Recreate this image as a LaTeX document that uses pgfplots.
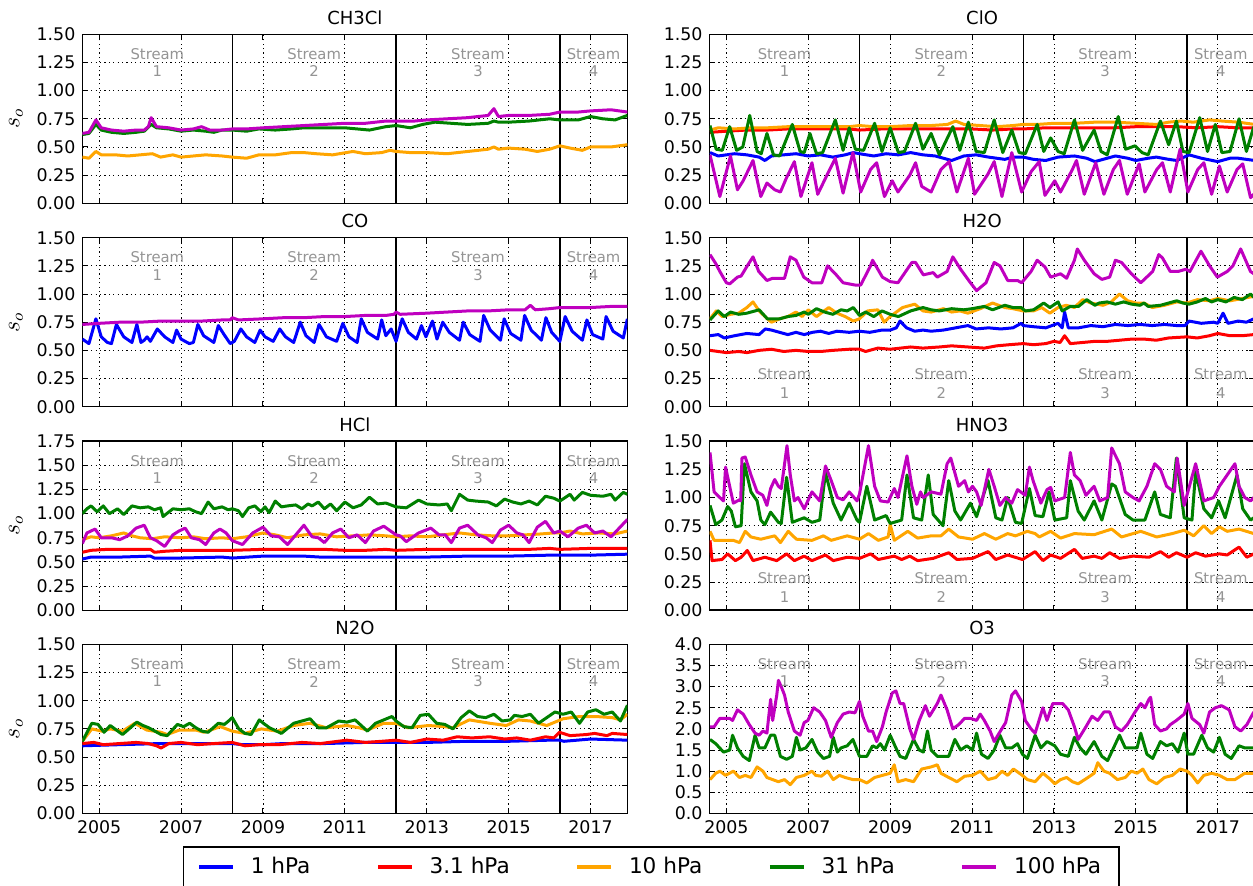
\documentclass[border=0pt]{standalone}
\usepackage{fontspec}
\setmainfont{DejaVu Sans}
\usepackage{pgfplots}
\pgfplotsset{compat=1.18}
\definecolor{colB}{rgb}{0,0,1}
\definecolor{colR}{rgb}{1,0,0}
\definecolor{colO}{rgb}{1,0.647,0}
\definecolor{colG}{rgb}{0,0.5,0}
\definecolor{colM}{rgb}{0.75,0,0.75}
\definecolor{sgray}{rgb}{0.58,0.58,0.58}
\tikzset{streamtxt/.style={text=sgray, font=\fontsize{7.4}{9}\selectfont, inner sep=0pt}}
\pgfplotsset{
 panel/.style={
  scale only axis, width=272.5pt, height=84.5pt,
  xmin=2004.59, xmax=2017.9, ymin=0,
  xtick={2005,2007,2009,2011,2013,2015,2017},
  xticklabels={},
  grid=major,
  major grid style={black, line width=0.45pt, dash pattern=on 0.6pt off 1.6pt},
  extra x ticks={2008.25,2012.25,2016.25},
  extra x tick labels={},
  extra x tick style={major grid style={solid, black, line width=0.7pt}, major tick length=0pt},
  tick align=inside, major tick length=2.8pt,
  tick style={black, line width=0.5pt},
  axis line style={line width=0.7pt},
  tick label style={font=\fontsize{8.7}{10}\selectfont},
  /pgf/number format/assume math mode=true,
  every axis title/.style={at={(0.5,1)}, anchor=south, yshift=1.2pt, font=\fontsize{9}{10}\selectfont},
  every axis plot/.append style={line width=1.5pt, line join=round},
  no markers,
  yticklabel style={/pgf/number format/.cd, fixed, fixed zerofill, precision=2},
 },
 ylab/.style={ylabel={$s_o$}, ylabel style={font=\fontsize{12}{12}\selectfont}},
 y15/.style={ymax=1.5, ytick={0,0.25,0.5,0.75,1,1.25,1.5}},
 bottomx/.style={xticklabels={2005,2007,2009,2011,2013,2015,2017}},
}
\newcommand{\streams}[2]{%
 \node[streamtxt] at (rel axis cs:0.1375,#1) {Stream};
 \node[streamtxt] at (rel axis cs:0.1375,#2) {1};
 \node[streamtxt] at (rel axis cs:0.4252,#1) {Stream};
 \node[streamtxt] at (rel axis cs:0.4252,#2) {2};
 \node[streamtxt] at (rel axis cs:0.7258,#1) {Stream};
 \node[streamtxt] at (rel axis cs:0.7258,#2) {3};
 \node[streamtxt] at (rel axis cs:0.938,#1) {Stream};
 \node[streamtxt] at (rel axis cs:0.938,#2) {4};
}
\begin{document}
\begin{tikzpicture}
\path[use as bounding box] (0pt,0pt) rectangle (626.5pt,-443pt);

% ---------------- CH3Cl
\begin{axis}[panel, y15, ylab, at={(41.2pt,-17.15pt)}, anchor=north west, title={CH3Cl}]
\addplot[colO] coordinates {(2004.59,0.41)(2004.75,0.40)(2004.92,0.46)(2005.05,0.43)(2005.4,0.43)(2005.7,0.42)(2006.0,0.43)(2006.3,0.44)(2006.5,0.41)(2006.8,0.43)(2007.0,0.41)(2007.3,0.42)(2007.6,0.43)(2008.0,0.42)(2008.25,0.41)(2008.6,0.40)(2008.9,0.43)(2009.3,0.43)(2009.7,0.45)(2010.0,0.45)(2010.3,0.44)(2010.7,0.43)(2011.2,0.46)(2011.5,0.44)(2011.9,0.45)(2012.1,0.47)(2012.25,0.46)(2012.6,0.45)(2013.0,0.45)(2013.5,0.44)(2014.0,0.46)(2014.5,0.48)(2014.64,0.50)(2014.75,0.48)(2015.0,0.49)(2015.4,0.48)(2015.7,0.46)(2016.0,0.48)(2016.25,0.51)(2016.5,0.49)(2016.8,0.47)(2017.0,0.50)(2017.5,0.50)(2017.9,0.52)};
\addplot[colG] coordinates {(2004.59,0.61)(2004.75,0.62)(2004.92,0.70)(2005.05,0.65)(2005.3,0.63)(2005.6,0.62)(2005.9,0.63)(2006.1,0.64)(2006.27,0.70)(2006.4,0.67)(2006.7,0.66)(2007.0,0.64)(2007.3,0.65)(2007.6,0.64)(2007.8,0.63)(2008.0,0.65)(2008.25,0.65)(2008.6,0.64)(2008.9,0.66)(2009.3,0.65)(2009.7,0.66)(2010.0,0.67)(2010.5,0.67)(2011.0,0.67)(2011.3,0.66)(2011.6,0.65)(2012.0,0.68)(2012.25,0.69)(2012.6,0.67)(2012.9,0.70)(2013.2,0.72)(2013.6,0.71)(2014.0,0.70)(2014.5,0.71)(2014.64,0.73)(2014.75,0.72)(2015.0,0.72)(2015.5,0.73)(2016.0,0.75)(2016.25,0.74)(2016.7,0.74)(2017.0,0.77)(2017.3,0.75)(2017.6,0.74)(2017.9,0.78)};
\addplot[colM] coordinates {(2004.59,0.62)(2004.75,0.63)(2004.92,0.74)(2005.05,0.67)(2005.3,0.65)(2005.6,0.64)(2005.9,0.65)(2006.1,0.65)(2006.2,0.68)(2006.27,0.76)(2006.4,0.68)(2006.7,0.67)(2007.0,0.65)(2007.3,0.66)(2007.5,0.68)(2007.7,0.65)(2008.0,0.65)(2008.25,0.66)(2008.6,0.66)(2009.0,0.67)(2009.5,0.68)(2010.0,0.69)(2010.5,0.70)(2011.0,0.71)(2011.5,0.71)(2012.0,0.73)(2012.25,0.73)(2012.7,0.73)(2013.0,0.74)(2013.5,0.75)(2014.0,0.76)(2014.5,0.78)(2014.64,0.84)(2014.75,0.77)(2015.0,0.78)(2015.5,0.78)(2016.0,0.79)(2016.25,0.81)(2016.7,0.81)(2017.0,0.82)(2017.5,0.83)(2017.9,0.81)};
\streams{0.885}{0.78}
\end{axis}

% ---------------- ClO
\begin{axis}[panel, y15, at={(354.8pt,-17.15pt)}, anchor=north west, title={ClO}]
\addplot[colB] coordinates {(2004.6,0.45)(2004.8,0.42)(2005.0,0.43)(2005.2,0.44)(2005.5,0.43)(2005.8,0.41)(2005.94,0.38)(2006.1,0.42)(2006.4,0.43)(2006.7,0.44)(2007.0,0.42)(2007.3,0.43)(2007.6,0.41)(2007.9,0.43)(2008.1,0.45)(2008.25,0.44)(2008.6,0.42)(2008.9,0.44)(2009.2,0.43)(2009.5,0.45)(2009.8,0.43)(2010.1,0.42)(2010.5,0.38)(2010.8,0.42)(2011.1,0.43)(2011.4,0.41)(2011.8,0.39)(2012.0,0.41)(2012.25,0.41)(2012.5,0.39)(2012.8,0.38)(2013.1,0.41)(2013.5,0.42)(2013.8,0.40)(2014.0,0.37)(2014.3,0.40)(2014.5,0.42)(2014.8,0.40)(2015.0,0.38)(2015.3,0.40)(2015.5,0.41)(2015.8,0.39)(2016.0,0.38)(2016.3,0.43)(2016.6,0.40)(2017.0,0.37)(2017.3,0.40)(2017.5,0.40)(2017.9,0.38)};
\addplot[colR] coordinates {(2004.6,0.63)(2005.0,0.64)(2005.5,0.65)(2006.0,0.65)(2006.5,0.66)(2007.0,0.66)(2007.5,0.66)(2008.0,0.66)(2008.25,0.65)(2008.8,0.66)(2009.5,0.66)(2010.0,0.66)(2010.5,0.66)(2011.0,0.66)(2011.5,0.65)(2012.0,0.66)(2012.25,0.66)(2012.8,0.67)(2013.5,0.67)(2014.0,0.67)(2014.5,0.67)(2015.0,0.68)(2015.5,0.68)(2016.0,0.68)(2016.5,0.67)(2017.0,0.68)(2017.5,0.67)(2017.9,0.67)};
\addplot[colO] coordinates {(2004.6,0.65)(2004.8,0.67)(2005.2,0.66)(2005.6,0.67)(2006.0,0.67)(2006.5,0.68)(2007.0,0.68)(2007.5,0.68)(2008.0,0.68)(2008.25,0.69)(2008.6,0.68)(2009.0,0.68)(2009.5,0.69)(2010.0,0.69)(2010.4,0.70)(2010.6,0.73)(2010.8,0.70)(2011.2,0.69)(2011.6,0.68)(2012.0,0.69)(2012.25,0.70)(2012.6,0.70)(2013.0,0.71)(2013.5,0.71)(2014.0,0.72)(2014.5,0.72)(2015.0,0.71)(2015.5,0.70)(2015.8,0.72)(2016.1,0.73)(2016.4,0.72)(2016.8,0.74)(2017.1,0.73)(2017.5,0.72)(2017.9,0.70)};
\addplot[colG] coordinates {(2004.6,0.69)(2004.75,0.48)(2004.9,0.47)(2005.08,0.68)(2005.25,0.47)(2005.4,0.50)(2005.57,0.78)(2005.75,0.46)(2005.85,0.44)(2005.99,0.62)(2006.15,0.43)(2006.3,0.42)(2006.61,0.70)(2006.8,0.46)(2006.9,0.45)(2007.04,0.62)(2007.2,0.44)(2007.35,0.45)(2007.66,0.74)(2007.85,0.47)(2008.0,0.67)(2008.15,0.48)(2008.35,0.47)(2008.62,0.71)(2008.8,0.46)(2009.0,0.67)(2009.2,0.45)(2009.35,0.46)(2009.62,0.71)(2009.8,0.48)(2010.0,0.62)(2010.2,0.43)(2010.53,0.68)(2010.7,0.47)(2010.91,0.72)(2011.1,0.46)(2011.3,0.45)(2011.54,0.74)(2011.75,0.45)(2011.97,0.65)(2012.15,0.45)(2012.3,0.44)(2012.59,0.70)(2012.75,0.46)(2012.92,0.58)(2013.1,0.46)(2013.25,0.44)(2013.5,0.74)(2013.7,0.47)(2013.98,0.65)(2014.15,0.46)(2014.3,0.43)(2014.57,0.77)(2014.75,0.48)(2014.98,0.51)(2015.15,0.45)(2015.3,0.43)(2015.6,0.73)(2015.8,0.52)(2015.99,0.73)(2016.15,0.46)(2016.3,0.45)(2016.56,0.76)(2016.75,0.46)(2016.94,0.70)(2017.1,0.45)(2017.3,0.46)(2017.52,0.75)(2017.7,0.46)(2017.88,0.68)};
\addplot[colM] coordinates {(2004.60,0.43)(2004.84,0.06)(2005.10,0.42)(2005.27,0.12)(2005.41,0.20)(2005.65,0.38)(2005.84,0.06)(2005.99,0.18)(2006.18,0.12)(2006.32,0.10)(2006.46,0.22)(2006.66,0.37)(2006.82,0.06)(2007.09,0.36)(2007.23,0.08)(2007.47,0.26)(2007.66,0.40)(2007.85,0.09)(2008.09,0.45)(2008.28,0.10)(2008.52,0.30)(2008.67,0.36)(2008.86,0.06)(2009.05,0.20)(2009.19,0.10)(2009.48,0.25)(2009.62,0.36)(2009.77,0.15)(2010.00,0.10)(2010.24,0.30)(2010.44,0.37)(2010.63,0.10)(2010.91,0.40)(2011.06,0.08)(2011.39,0.26)(2011.54,0.37)(2011.73,0.06)(2011.97,0.45)(2012.21,0.10)(2012.44,0.28)(2012.64,0.37)(2012.78,0.07)(2013.02,0.20)(2013.16,0.10)(2013.45,0.30)(2013.55,0.38)(2013.74,0.08)(2014.02,0.36)(2014.22,0.08)(2014.45,0.30)(2014.60,0.38)(2014.79,0.08)(2015.08,0.35)(2015.22,0.10)(2015.51,0.30)(2015.65,0.36)(2015.84,0.10)(2016.08,0.48)(2016.27,0.10)(2016.51,0.30)(2016.66,0.36)(2016.85,0.08)(2017.04,0.33)(2017.23,0.10)(2017.47,0.30)(2017.61,0.35)(2017.80,0.05)(2017.88,0.08)};
\streams{0.885}{0.78}
\end{axis}

% ---------------- CO
\begin{axis}[panel, y15, ylab, at={(41.2pt,-118.85pt)}, anchor=north west, title={CO}]
\addplot[colB] coordinates {(2004.59,0.60)(2004.75,0.56)(2004.92,0.78)(2005.05,0.62)(2005.2,0.57)(2005.3,0.56)(2005.42,0.73)(2005.6,0.62)(2005.8,0.57)(2005.92,0.73)(2006.02,0.57)(2006.1,0.59)(2006.17,0.62)(2006.25,0.58)(2006.42,0.69)(2006.6,0.62)(2006.8,0.57)(2006.89,0.68)(2007.0,0.60)(2007.2,0.56)(2007.3,0.57)(2007.41,0.73)(2007.55,0.63)(2007.8,0.57)(2007.91,0.72)(2008.05,0.64)(2008.2,0.56)(2008.3,0.58)(2008.46,0.69)(2008.6,0.62)(2008.8,0.57)(2008.93,0.68)(2009.05,0.62)(2009.25,0.58)(2009.41,0.69)(2009.55,0.62)(2009.75,0.57)(2009.91,0.75)(2010.05,0.63)(2010.25,0.57)(2010.37,0.73)(2010.55,0.62)(2010.8,0.58)(2010.95,0.74)(2011.1,0.62)(2011.3,0.57)(2011.40,0.78)(2011.55,0.66)(2011.8,0.60)(2011.90,0.77)(2012.0,0.63)(2012.13,0.69)(2012.25,0.58)(2012.40,0.78)(2012.55,0.66)(2012.75,0.60)(2012.87,0.72)(2012.98,0.62)(2013.14,0.76)(2013.25,0.60)(2013.39,0.75)(2013.55,0.66)(2013.8,0.59)(2013.89,0.75)(2014.05,0.64)(2014.3,0.58)(2014.39,0.81)(2014.55,0.68)(2014.8,0.59)(2014.89,0.78)(2015.05,0.65)(2015.3,0.59)(2015.39,0.81)(2015.55,0.68)(2015.8,0.59)(2015.91,0.79)(2016.05,0.66)(2016.25,0.58)(2016.38,0.80)(2016.55,0.67)(2016.8,0.59)(2016.91,0.77)(2017.05,0.64)(2017.3,0.60)(2017.38,0.80)(2017.55,0.67)(2017.8,0.61)(2017.9,0.78)};
\addplot[colM] coordinates {(2004.59,0.73)(2005.0,0.74)(2005.5,0.75)(2006.0,0.75)(2006.5,0.76)(2007.0,0.76)(2007.5,0.76)(2008.0,0.77)(2008.2,0.77)(2008.25,0.79)(2008.4,0.77)(2009.0,0.78)(2009.5,0.79)(2010.0,0.79)(2010.5,0.80)(2011.0,0.80)(2011.5,0.81)(2012.0,0.81)(2012.2,0.82)(2012.25,0.84)(2012.35,0.82)(2013.0,0.83)(2013.5,0.84)(2014.0,0.85)(2014.5,0.85)(2015.0,0.86)(2015.4,0.86)(2015.53,0.90)(2015.65,0.86)(2016.0,0.87)(2016.25,0.88)(2016.6,0.88)(2017.0,0.88)(2017.5,0.89)(2017.9,0.89)};
\streams{0.885}{0.78}
\end{axis}

% ---------------- H2O
\begin{axis}[panel, y15, at={(354.8pt,-118.85pt)}, anchor=north west, title={H2O}]
\addplot[colB] coordinates {(2004.6,0.63)(2004.8,0.64)(2004.95,0.61)(2005.2,0.63)(2005.5,0.65)(2005.8,0.64)(2005.95,0.69)(2006.1,0.68)(2006.3,0.66)(2006.5,0.64)(2006.7,0.66)(2006.9,0.64)(2007.1,0.66)(2007.3,0.67)(2007.5,0.65)(2007.7,0.67)(2008.0,0.66)(2008.25,0.67)(2008.5,0.66)(2008.8,0.68)(2009.0,0.68)(2009.15,0.70)(2009.24,0.76)(2009.4,0.70)(2009.6,0.67)(2009.8,0.68)(2010.0,0.67)(2010.3,0.68)(2010.6,0.70)(2010.9,0.72)(2011.1,0.69)(2011.4,0.70)(2011.7,0.69)(2012.0,0.70)(2012.2,0.74)(2012.25,0.72)(2012.5,0.71)(2012.8,0.70)(2013.1,0.74)(2013.2,0.70)(2013.26,0.84)(2013.35,0.70)(2013.6,0.70)(2013.9,0.72)(2014.2,0.71)(2014.5,0.73)(2014.8,0.72)(2015.1,0.73)(2015.4,0.72)(2015.7,0.73)(2016.0,0.72)(2016.2,0.72)(2016.3,0.76)(2016.6,0.74)(2016.9,0.75)(2017.0,0.74)(2017.13,0.83)(2017.25,0.74)(2017.5,0.76)(2017.7,0.75)(2017.88,0.78)};
\addplot[colR] coordinates {(2004.6,0.50)(2004.8,0.49)(2005.0,0.48)(2005.3,0.49)(2005.5,0.48)(2005.8,0.50)(2006.1,0.51)(2006.4,0.49)(2006.7,0.50)(2007.0,0.49)(2007.3,0.49)(2007.6,0.50)(2008.0,0.51)(2008.25,0.51)(2008.4,0.49)(2008.7,0.52)(2009.0,0.51)(2009.5,0.53)(2009.8,0.52)(2010.2,0.53)(2010.5,0.54)(2010.9,0.53)(2011.3,0.52)(2011.6,0.54)(2011.9,0.55)(2012.25,0.56)(2012.5,0.55)(2012.8,0.56)(2013.0,0.58)(2013.15,0.57)(2013.26,0.63)(2013.4,0.56)(2013.7,0.57)(2014.0,0.58)(2014.3,0.58)(2014.6,0.59)(2014.9,0.60)(2015.2,0.60)(2015.5,0.59)(2015.8,0.61)(2016.25,0.62)(2016.5,0.61)(2016.8,0.63)(2017.0,0.65)(2017.3,0.63)(2017.6,0.63)(2017.88,0.64)};
\addplot[colO] coordinates {(2004.6,0.78)(2004.75,0.85)(2004.9,0.80)(2005.1,0.82)(2005.3,0.83)(2005.5,0.88)(2005.65,0.93)(2005.8,0.85)(2006.0,0.78)(2006.1,0.75)(2006.3,0.78)(2006.5,0.80)(2006.7,0.84)(2006.85,0.80)(2007.0,0.86)(2007.2,0.80)(2007.5,0.88)(2007.7,0.83)(2007.9,0.80)(2008.1,0.76)(2008.25,0.78)(2008.45,0.85)(2008.7,0.86)(2008.85,0.75)(2009.0,0.80)(2009.3,0.88)(2009.6,0.91)(2009.8,0.85)(2010.0,0.84)(2010.3,0.87)(2010.5,0.84)(2010.7,0.85)(2010.9,0.83)(2011.2,0.87)(2011.5,0.92)(2011.8,0.88)(2012.0,0.87)(2012.25,0.85)(2012.5,0.85)(2012.7,0.88)(2012.9,0.83)(2013.1,0.88)(2013.3,0.90)(2013.5,0.88)(2013.7,0.95)(2013.9,0.92)(2014.2,0.90)(2014.4,0.93)(2014.6,1.00)(2014.8,0.94)(2015.0,0.92)(2015.2,0.92)(2015.4,0.88)(2015.7,0.90)(2016.0,0.93)(2016.25,0.92)(2016.5,0.95)(2016.8,0.94)(2017.0,0.96)(2017.3,0.94)(2017.6,0.96)(2017.88,0.98)};
\addplot[colG] coordinates {(2004.6,0.77)(2004.8,0.85)(2004.95,0.80)(2005.1,0.84)(2005.3,0.82)(2005.5,0.83)(2005.8,0.86)(2006.0,0.78)(2006.3,0.78)(2006.5,0.80)(2006.7,0.81)(2006.9,0.84)(2007.0,0.82)(2007.2,0.87)(2007.4,0.84)(2007.6,0.82)(2007.8,0.86)(2007.95,0.85)(2008.1,0.88)(2008.25,0.81)(2008.4,0.84)(2008.6,0.80)(2008.8,0.85)(2009.0,0.82)(2009.2,0.80)(2009.5,0.85)(2009.8,0.88)(2010.0,0.86)(2010.2,0.85)(2010.5,0.87)(2010.8,0.86)(2011.0,0.87)(2011.3,0.89)(2011.5,0.86)(2011.8,0.90)(2012.0,0.88)(2012.2,0.88)(2012.3,0.85)(2012.5,0.86)(2012.75,0.92)(2012.9,0.88)(2013.1,0.93)(2013.2,0.85)(2013.4,0.89)(2013.6,0.89)(2013.8,0.95)(2014.0,0.90)(2014.1,0.92)(2014.3,0.93)(2014.5,0.91)(2014.7,0.93)(2014.9,0.91)(2015.1,0.90)(2015.2,0.92)(2015.3,0.89)(2015.6,0.90)(2015.8,0.92)(2016.0,0.94)(2016.15,0.92)(2016.3,0.91)(2016.5,0.93)(2016.7,0.96)(2016.85,0.93)(2017.0,0.95)(2017.2,0.93)(2017.4,0.97)(2017.6,0.95)(2017.8,1.00)(2017.88,0.97)};
\addplot[colM] coordinates {(2004.60,1.35)(2004.74,1.27)(2004.84,1.20)(2005.00,1.10)(2005.08,1.09)(2005.27,1.15)(2005.36,1.16)(2005.51,1.25)(2005.65,1.33)(2005.79,1.20)(2005.99,1.12)(2006.13,1.14)(2006.42,1.14)(2006.56,1.33)(2006.70,1.30)(2006.89,1.15)(2007.09,1.10)(2007.33,1.10)(2007.47,1.25)(2007.66,1.18)(2007.85,1.10)(2008.14,1.08)(2008.28,1.08)(2008.52,1.25)(2008.57,1.30)(2008.81,1.15)(2009.00,1.11)(2009.19,1.10)(2009.53,1.28)(2009.62,1.28)(2009.81,1.17)(2010.05,1.19)(2010.15,1.15)(2010.39,1.20)(2010.53,1.33)(2010.72,1.22)(2010.96,1.10)(2011.11,1.03)(2011.34,1.10)(2011.54,1.28)(2011.68,1.25)(2011.87,1.12)(2012.11,1.12)(2012.21,1.10)(2012.44,1.20)(2012.59,1.30)(2012.78,1.24)(2012.92,1.15)(2013.16,1.18)(2013.31,1.14)(2013.50,1.30)(2013.57,1.40)(2013.74,1.30)(2013.98,1.18)(2014.17,1.13)(2014.36,1.15)(2014.50,1.30)(2014.65,1.28)(2014.89,1.18)(2015.12,1.10)(2015.41,1.20)(2015.56,1.35)(2015.65,1.32)(2015.84,1.20)(2016.03,1.20)(2016.22,1.22)(2016.32,1.20)(2016.59,1.38)(2016.80,1.25)(2016.99,1.15)(2017.23,1.20)(2017.37,1.25)(2017.56,1.40)(2017.80,1.20)(2017.88,1.18)};
\streams{0.19}{0.08}
\end{axis}

% ---------------- HCl
\begin{axis}[panel, ylab, ymax=1.75, ytick={0,0.25,0.5,0.75,1,1.25,1.5,1.75}, at={(41.2pt,-220.6pt)}, anchor=north west, title={HCl}]
\addplot[colB] coordinates {(2004.59,0.53)(2004.8,0.55)(2005.5,0.55)(2006.25,0.56)(2006.35,0.54)(2007.0,0.54)(2008.0,0.55)(2008.25,0.54)(2009.0,0.56)(2010.0,0.56)(2010.4,0.55)(2011.0,0.55)(2012.0,0.55)(2012.25,0.55)(2013.0,0.55)(2014.0,0.56)(2015.0,0.56)(2016.0,0.57)(2016.25,0.57)(2017.0,0.57)(2017.9,0.58)};
\addplot[colR] coordinates {(2004.59,0.60)(2004.8,0.62)(2005.2,0.63)(2005.6,0.63)(2006.0,0.63)(2006.25,0.63)(2006.35,0.60)(2006.6,0.61)(2007.0,0.62)(2007.5,0.62)(2008.0,0.62)(2008.25,0.62)(2009.0,0.63)(2009.5,0.63)(2010.0,0.63)(2010.5,0.63)(2011.0,0.62)(2011.5,0.62)(2012.0,0.63)(2012.25,0.62)(2013.0,0.63)(2013.5,0.63)(2014.0,0.63)(2014.5,0.63)(2015.0,0.63)(2015.5,0.63)(2016.0,0.64)(2016.25,0.63)(2017.0,0.64)(2017.9,0.64)};
\addplot[colO] coordinates {(2004.59,0.73)(2004.8,0.76)(2005.0,0.75)(2005.3,0.77)(2005.6,0.80)(2005.8,0.77)(2006.0,0.75)(2006.3,0.74)(2006.6,0.76)(2007.0,0.75)(2007.3,0.76)(2007.6,0.74)(2008.0,0.75)(2008.25,0.74)(2008.6,0.76)(2009.0,0.80)(2009.3,0.78)(2009.6,0.75)(2010.0,0.78)(2010.4,0.79)(2010.8,0.76)(2011.2,0.77)(2011.6,0.78)(2012.0,0.77)(2012.25,0.76)(2012.6,0.77)(2013.0,0.76)(2013.4,0.78)(2013.8,0.80)(2014.2,0.78)(2014.6,0.77)(2015.0,0.77)(2015.4,0.78)(2015.8,0.79)(2016.1,0.80)(2016.25,0.80)(2016.5,0.82)(2016.8,0.79)(2017.2,0.80)(2017.6,0.79)(2017.9,0.82)};
\addplot[colG] coordinates {(2004.59,1.00)(2004.7,1.05)(2004.8,1.08)(2004.95,1.02)(2005.1,1.08)(2005.25,1.00)(2005.45,1.05)(2005.6,0.99)(2005.8,1.08)(2006.0,1.06)(2006.2,1.07)(2006.35,1.04)(2006.5,1.06)(2006.56,0.97)(2006.8,1.05)(2007.0,1.04)(2007.2,1.05)(2007.35,1.02)(2007.5,1.00)(2007.66,1.12)(2007.8,1.05)(2008.0,1.07)(2008.15,1.04)(2008.25,1.05)(2008.4,1.03)(2008.5,0.97)(2008.65,1.06)(2008.8,1.08)(2008.95,1.02)(2009.05,1.07)(2009.15,1.01)(2009.3,1.13)(2009.45,1.07)(2009.6,1.08)(2009.8,1.09)(2009.95,1.05)(2010.1,1.10)(2010.2,1.08)(2010.35,1.12)(2010.5,1.05)(2010.65,1.10)(2010.8,1.03)(2011.0,1.12)(2011.2,1.06)(2011.4,1.09)(2011.6,1.17)(2011.8,1.10)(2012.0,1.11)(2012.25,1.07)(2012.5,1.06)(2012.8,1.14)(2013.0,1.10)(2013.3,1.09)(2013.5,1.10)(2013.6,1.03)(2013.8,1.20)(2014.0,1.14)(2014.2,1.13)(2014.5,1.12)(2014.7,1.08)(2014.9,1.15)(2015.1,1.12)(2015.3,1.10)(2015.5,1.13)(2015.7,1.09)(2015.9,1.18)(2016.1,1.16)(2016.25,1.13)(2016.5,1.20)(2016.6,1.14)(2016.8,1.22)(2017.0,1.19)(2017.3,1.18)(2017.5,1.20)(2017.6,1.14)(2017.8,1.22)(2017.9,1.20)};
\addplot[colM] coordinates {(2004.59,0.69)(2004.7,0.80)(2004.9,0.84)(2005.05,0.75)(2005.3,0.75)(2005.5,0.73)(2005.7,0.77)(2005.9,0.85)(2006.1,0.88)(2006.25,0.75)(2006.4,0.72)(2006.6,0.66)(2006.8,0.78)(2006.95,0.82)(2007.1,0.85)(2007.25,0.75)(2007.45,0.73)(2007.6,0.68)(2007.8,0.80)(2007.95,0.84)(2008.1,0.80)(2008.25,0.72)(2008.5,0.68)(2008.75,0.80)(2009.0,0.86)(2009.2,0.77)(2009.4,0.76)(2009.6,0.68)(2009.8,0.78)(2010.0,0.88)(2010.2,0.76)(2010.35,0.75)(2010.5,0.70)(2010.7,0.80)(2010.9,0.84)(2011.1,0.75)(2011.3,0.78)(2011.5,0.70)(2011.7,0.82)(2011.95,0.87)(2012.25,0.78)(2012.35,0.77)(2012.5,0.71)(2012.8,0.80)(2013.1,0.85)(2013.3,0.78)(2013.45,0.78)(2013.6,0.70)(2013.8,0.85)(2014.0,0.88)(2014.25,0.78)(2014.45,0.75)(2014.6,0.70)(2014.8,0.83)(2015.0,0.88)(2015.2,0.80)(2015.35,0.78)(2015.5,0.70)(2015.7,0.86)(2015.9,0.92)(2016.1,0.80)(2016.25,0.82)(2016.45,0.76)(2016.7,0.85)(2016.9,0.88)(2017.1,0.80)(2017.3,0.82)(2017.5,0.76)(2017.7,0.85)(2017.9,0.94)};
\streams{0.885}{0.78}
\end{axis}

% ---------------- HNO3
\begin{axis}[panel, y15, at={(354.8pt,-220.6pt)}, anchor=north west, title={HNO3}]
\addplot[colR] coordinates {(2004.60,0.62)(2004.65,0.44)(2004.89,0.45)(2005.03,0.50)(2005.22,0.44)(2005.36,0.47)(2005.51,0.53)(2005.65,0.44)(2005.94,0.47)(2006.23,0.44)(2006.47,0.50)(2006.66,0.44)(2006.90,0.48)(2007.09,0.44)(2007.42,0.49)(2007.61,0.44)(2007.95,0.47)(2008.25,0.46)(2008.52,0.50)(2008.71,0.45)(2009.10,0.48)(2009.28,0.45)(2009.48,0.48)(2009.67,0.44)(2010.05,0.46)(2010.43,0.51)(2010.63,0.45)(2011.01,0.46)(2011.39,0.52)(2011.58,0.45)(2011.87,0.49)(2012.23,0.45)(2012.54,0.52)(2012.73,0.44)(2012.92,0.49)(2013.16,0.46)(2013.50,0.54)(2013.69,0.46)(2013.98,0.48)(2014.17,0.46)(2014.36,0.51)(2014.60,0.46)(2014.93,0.48)(2015.32,0.47)(2015.60,0.52)(2015.80,0.47)(2015.99,0.51)(2016.25,0.47)(2016.46,0.51)(2016.70,0.48)(2017.04,0.50)(2017.23,0.49)(2017.52,0.56)(2017.71,0.47)(2017.88,0.50)};
\addplot[colO] coordinates {(2004.60,0.70)(2004.70,0.62)(2005.17,0.62)(2005.32,0.60)(2005.46,0.70)(2005.60,0.65)(2005.84,0.63)(2006.18,0.66)(2006.32,0.60)(2006.51,0.70)(2006.71,0.63)(2007.09,0.62)(2007.37,0.66)(2007.56,0.62)(2007.95,0.66)(2008.25,0.63)(2008.47,0.68)(2008.71,0.62)(2008.95,0.65)(2009.00,0.76)(2009.10,0.62)(2009.43,0.70)(2009.67,0.64)(2010.00,0.66)(2010.24,0.66)(2010.43,0.72)(2010.67,0.65)(2011.01,0.63)(2011.30,0.68)(2011.58,0.63)(2011.87,0.68)(2012.06,0.66)(2012.35,0.70)(2012.54,0.68)(2012.64,0.65)(2012.92,0.70)(2013.16,0.64)(2013.50,0.68)(2013.98,0.67)(2014.41,0.72)(2014.65,0.65)(2015.12,0.70)(2015.51,0.65)(2015.89,0.68)(2016.18,0.71)(2016.41,0.66)(2016.66,0.75)(2016.85,0.68)(2017.04,0.74)(2017.23,0.70)(2017.52,0.72)(2017.88,0.68)};
\addplot[colG] coordinates {(2004.60,0.93)(2004.74,0.76)(2004.89,0.80)(2005.03,0.92)(2005.12,0.88)(2005.22,0.74)(2005.36,0.75)(2005.44,1.30)(2005.60,1.05)(2005.75,0.97)(2005.84,0.80)(2005.94,0.76)(2006.08,0.87)(2006.27,0.78)(2006.34,0.77)(2006.47,1.18)(2006.61,0.78)(2006.75,0.80)(2006.90,0.82)(2007.09,0.78)(2007.28,0.80)(2007.42,1.22)(2007.61,0.95)(2007.80,0.80)(2008.00,0.95)(2008.19,0.80)(2008.25,0.78)(2008.43,1.10)(2008.62,0.80)(2008.90,0.84)(2009.00,0.77)(2009.28,0.80)(2009.41,1.20)(2009.57,0.82)(2009.77,0.80)(2009.93,1.20)(2010.05,0.85)(2010.29,0.75)(2010.43,1.15)(2010.58,0.88)(2010.72,0.80)(2010.96,0.95)(2011.11,0.83)(2011.39,1.15)(2011.58,0.82)(2011.73,0.80)(2011.87,1.00)(2012.06,0.78)(2012.21,0.77)(2012.40,1.08)(2012.54,0.84)(2012.73,0.83)(2012.88,1.05)(2013.02,0.80)(2013.31,0.82)(2013.40,1.15)(2013.59,0.88)(2013.74,0.80)(2013.98,0.97)(2014.17,0.80)(2014.41,1.12)(2014.50,1.10)(2014.74,0.85)(2014.93,0.80)(2015.22,0.80)(2015.46,1.05)(2015.60,0.85)(2015.84,0.82)(2015.99,1.35)(2016.18,0.82)(2016.37,0.80)(2016.46,1.23)(2016.66,0.90)(2016.85,0.82)(2017.02,0.97)(2017.18,0.82)(2017.47,1.20)(2017.61,0.90)(2017.80,0.80)(2017.88,0.82)};
\addplot[colM] coordinates {(2004.60,1.40)(2004.70,1.05)(2004.84,1.00)(2004.93,0.97)(2004.98,1.27)(2005.08,1.10)(2005.17,0.95)(2005.32,0.98)(2005.35,0.97)(2005.38,1.35)(2005.46,1.36)(2005.60,1.20)(2005.75,1.05)(2005.89,1.02)(2005.99,0.93)(2006.08,1.08)(2006.18,1.16)(2006.27,1.10)(2006.34,1.08)(2006.48,1.46)(2006.56,1.20)(2006.66,0.97)(2006.75,1.00)(2006.90,0.90)(2007.09,1.05)(2007.28,0.97)(2007.42,1.28)(2007.56,1.15)(2007.71,1.00)(2007.85,0.98)(2008.00,1.05)(2008.19,0.97)(2008.25,1.03)(2008.47,1.46)(2008.62,1.10)(2008.76,0.97)(2008.95,0.96)(2009.10,1.08)(2009.19,1.00)(2009.41,1.37)(2009.53,1.10)(2009.65,0.94)(2009.74,1.05)(2009.81,1.00)(2010.00,1.05)(2010.24,1.03)(2010.39,1.30)(2010.48,1.35)(2010.67,1.10)(2010.82,1.15)(2010.91,1.05)(2011.01,1.10)(2011.11,1.05)(2011.22,0.93)(2011.41,1.25)(2011.54,1.10)(2011.68,0.93)(2011.82,1.00)(2011.97,0.95)(2012.11,1.07)(2012.30,1.02)(2012.40,1.27)(2012.49,1.15)(2012.68,0.95)(2012.83,1.07)(2012.92,1.09)(2013.02,0.97)(2013.26,1.00)(2013.40,1.40)(2013.50,1.20)(2013.64,1.15)(2013.78,1.02)(2013.98,1.10)(2014.12,0.97)(2014.31,1.00)(2014.41,1.44)(2014.60,1.30)(2014.74,1.05)(2014.93,1.00)(2015.08,0.97)(2015.27,1.10)(2015.46,1.30)(2015.60,1.25)(2015.75,1.10)(2015.94,1.05)(2016.01,1.35)(2016.18,0.93)(2016.27,1.05)(2016.46,1.30)(2016.66,0.97)(2016.90,1.00)(2017.04,1.10)(2017.42,1.30)(2017.52,1.10)(2017.66,1.00)(2017.80,0.97)(2017.88,1.00)};
\streams{0.19}{0.08}
\end{axis}

% ---------------- N2O
\begin{axis}[panel, y15, ylab, bottomx, at={(41.2pt,-322.2pt)}, anchor=north west, title={N2O},
  legend columns=5,
  legend style={at={(1.044,-0.317)}, anchor=center, draw=black, line width=0.8pt,
    font=\fontsize{10.8}{13}\selectfont, inner xsep=7pt, inner ysep=3pt,
    /tikz/every odd column/.append style={column sep=6pt},
    /tikz/every even column/.append style={column sep=31pt}},
  legend image code/.code={\draw[#1, line width=1.6pt] (0pt,0pt) -- (17pt,0pt);}]
\addlegendimage{colB}\addlegendentry{1 hPa}
\addlegendimage{colR}\addlegendentry{3.1 hPa}
\addlegendimage{colO}\addlegendentry{10 hPa}
\addlegendimage{colG}\addlegendentry{31 hPa}
\addlegendimage{colM}\addlegendentry{100 hPa}
\addplot[colB, forget plot] coordinates {(2004.59,0.60)(2005.5,0.61)(2006.5,0.62)(2007.5,0.62)(2008.25,0.62)(2008.5,0.61)(2009.0,0.61)(2009.5,0.62)(2010.5,0.62)(2011.5,0.63)(2012.25,0.63)(2013.0,0.63)(2014.0,0.64)(2015.0,0.64)(2016.0,0.65)(2016.24,0.65)(2016.35,0.64)(2017.0,0.66)(2017.9,0.65)};
\addplot[colR, forget plot] coordinates {(2004.59,0.62)(2004.87,0.63)(2005.1,0.61)(2005.5,0.62)(2005.9,0.63)(2006.2,0.62)(2006.4,0.60)(2006.51,0.58)(2006.7,0.62)(2007.0,0.63)(2007.4,0.61)(2007.8,0.62)(2008.25,0.63)(2008.56,0.60)(2008.9,0.61)(2009.4,0.61)(2009.95,0.63)(2010.4,0.62)(2011.05,0.65)(2011.5,0.63)(2011.9,0.64)(2012.25,0.65)(2012.6,0.63)(2013.0,0.66)(2013.4,0.65)(2013.74,0.68)(2014.1,0.67)(2014.54,0.68)(2014.9,0.66)(2015.2,0.67)(2015.53,0.65)(2015.9,0.68)(2016.1,0.67)(2016.24,0.72)(2016.5,0.69)(2016.9,0.70)(2017.1,0.71)(2017.4,0.69)(2017.53,0.71)(2017.9,0.70)};
\addplot[colO, forget plot] coordinates {(2004.59,0.64)(2004.82,0.75)(2005.07,0.73)(2005.27,0.75)(2005.57,0.73)(2005.87,0.80)(2006.16,0.74)(2006.51,0.72)(2006.66,0.70)(2006.96,0.74)(2007.36,0.74)(2007.56,0.72)(2007.96,0.77)(2008.25,0.73)(2008.56,0.71)(2008.96,0.75)(2009.35,0.73)(2009.75,0.78)(2010.15,0.80)(2010.55,0.76)(2011.05,0.78)(2011.35,0.76)(2011.55,0.74)(2011.95,0.80)(2012.25,0.80)(2012.54,0.76)(2013.04,0.78)(2013.44,0.77)(2013.64,0.76)(2014.04,0.83)(2014.54,0.80)(2014.94,0.78)(2015.24,0.83)(2015.53,0.82)(2015.93,0.78)(2016.33,0.84)(2016.73,0.86)(2017.13,0.86)(2017.53,0.85)(2017.73,0.83)(2017.90,0.88)};
\addplot[colG, forget plot] coordinates {(2004.59,0.64)(2004.82,0.80)(2004.97,0.79)(2005.12,0.72)(2005.27,0.78)(2005.42,0.74)(2005.57,0.70)(2005.92,0.81)(2006.07,0.78)(2006.21,0.76)(2006.36,0.73)(2006.51,0.70)(2006.66,0.69)(2006.91,0.79)(2007.06,0.77)(2007.21,0.80)(2007.36,0.76)(2007.51,0.73)(2007.66,0.72)(2007.91,0.80)(2008.06,0.79)(2008.16,0.82)(2008.25,0.85)(2008.41,0.75)(2008.56,0.71)(2008.71,0.70)(2008.91,0.83)(2009.01,0.80)(2009.16,0.76)(2009.45,0.71)(2009.75,0.80)(2009.95,0.82)(2010.15,0.84)(2010.35,0.76)(2010.55,0.76)(2010.85,0.82)(2011.05,0.81)(2011.25,0.83)(2011.55,0.73)(2011.75,0.80)(2011.95,0.83)(2012.15,0.86)(2012.25,0.82)(2012.44,0.77)(2012.64,0.76)(2012.84,0.87)(2013.04,0.88)(2013.24,0.80)(2013.44,0.79)(2013.64,0.75)(2013.84,0.85)(2014.04,0.91)(2014.24,0.86)(2014.44,0.85)(2014.64,0.88)(2014.84,0.82)(2015.04,0.83)(2015.14,0.87)(2015.33,0.86)(2015.53,0.88)(2015.73,0.80)(2015.93,0.85)(2016.13,0.90)(2016.33,0.88)(2016.53,0.90)(2016.73,0.80)(2016.93,0.90)(2017.13,0.92)(2017.33,0.88)(2017.53,0.90)(2017.73,0.82)(2017.90,0.96)};
\streams{0.885}{0.78}
\end{axis}

% ---------------- O3
\begin{axis}[panel, bottomx, ymax=4, ytick={0,0.5,1,1.5,2,2.5,3,3.5,4},
  yticklabel style={/pgf/number format/.cd, fixed, fixed zerofill, precision=1},
  at={(354.8pt,-322.2pt)}, anchor=north west, title={O3}]
\addplot[colO] coordinates {(2004.60,0.80)(2004.74,0.95)(2004.84,1.00)(2004.98,0.90)(2005.17,1.00)(2005.32,0.85)(2005.46,0.90)(2005.60,0.85)(2005.75,1.10)(2005.89,1.00)(2005.99,0.85)(2006.13,0.80)(2006.27,0.75)(2006.42,0.80)(2006.56,0.68)(2006.71,0.85)(2006.90,0.90)(2007.09,1.00)(2007.18,0.90)(2007.32,0.88)(2007.47,1.00)(2007.61,0.80)(2007.76,0.90)(2007.90,0.85)(2008.09,0.80)(2008.25,0.80)(2008.43,0.72)(2008.62,0.85)(2009.00,0.95)(2009.10,1.15)(2009.19,0.75)(2009.38,0.80)(2009.57,0.75)(2009.77,1.05)(2010.00,1.10)(2010.15,1.15)(2010.24,0.95)(2010.43,0.85)(2010.63,0.75)(2010.82,0.88)(2011.01,0.90)(2011.20,1.00)(2011.39,0.80)(2011.58,0.85)(2011.73,1.00)(2011.87,0.90)(2012.01,1.05)(2012.23,0.90)(2012.35,0.80)(2012.54,0.75)(2012.73,0.95)(2012.92,0.80)(2013.02,0.70)(2013.16,0.80)(2013.31,0.85)(2013.45,0.75)(2013.59,0.70)(2013.83,0.85)(2013.98,0.95)(2014.07,1.20)(2014.22,1.00)(2014.36,0.95)(2014.55,0.80)(2014.74,0.85)(2014.89,1.00)(2015.03,0.95)(2015.17,1.05)(2015.32,0.80)(2015.51,0.70)(2015.70,0.85)(2015.89,0.90)(2016.08,1.05)(2016.25,1.00)(2016.37,0.90)(2016.51,0.72)(2016.66,0.90)(2016.85,0.95)(2017.04,0.90)(2017.23,0.80)(2017.42,0.80)(2017.66,0.95)(2017.88,0.95)};
\addplot[colG] coordinates {(2004.60,1.75)(2004.74,1.65)(2004.93,1.45)(2005.08,1.50)(2005.15,1.85)(2005.27,1.55)(2005.41,1.35)(2005.56,1.25)(2005.70,1.85)(2005.80,1.55)(2005.94,1.55)(2006.08,1.85)(2006.18,1.85)(2006.32,1.35)(2006.47,1.28)(2006.61,1.35)(2006.71,1.80)(2006.80,1.50)(2006.94,1.55)(2007.09,1.75)(2007.23,1.45)(2007.37,1.30)(2007.52,1.35)(2007.61,1.80)(2007.71,1.45)(2007.80,1.55)(2007.95,1.60)(2008.09,1.75)(2008.25,1.35)(2008.43,1.35)(2008.57,1.60)(2008.67,1.55)(2008.76,1.65)(2008.86,1.50)(2009.00,1.85)(2009.14,1.55)(2009.24,1.35)(2009.38,1.30)(2009.57,1.75)(2009.71,1.50)(2009.81,1.45)(2009.91,1.95)(2010.00,1.50)(2010.15,1.35)(2010.43,1.35)(2010.58,1.75)(2010.72,1.50)(2010.87,1.60)(2011.01,1.50)(2011.11,1.90)(2011.23,1.40)(2011.39,1.30)(2011.54,1.50)(2011.68,1.85)(2011.82,1.55)(2011.97,1.55)(2012.11,1.65)(2012.23,1.40)(2012.35,1.30)(2012.54,1.85)(2012.68,1.55)(2012.83,1.70)(2013.02,1.60)(2013.16,1.40)(2013.35,1.35)(2013.50,1.80)(2013.64,1.55)(2013.78,1.40)(2013.98,1.70)(2014.17,1.35)(2014.31,1.25)(2014.60,1.85)(2014.74,1.55)(2014.89,1.55)(2015.03,1.55)(2015.12,1.90)(2015.27,1.40)(2015.41,1.30)(2015.60,1.70)(2015.75,1.60)(2015.89,1.65)(2016.03,1.45)(2016.18,1.90)(2016.27,1.40)(2016.41,1.40)(2016.61,1.85)(2016.75,1.55)(2016.90,1.45)(2017.04,1.80)(2017.18,1.40)(2017.33,1.30)(2017.52,1.60)(2017.66,1.55)(2017.88,1.55)};
\addplot[colM] coordinates {(2004.60,2.05)(2004.70,2.05)(2004.84,2.25)(2004.93,2.25)(2005.08,2.25)(2005.15,2.20)(2005.27,2.45)(2005.41,2.35)(2005.56,2.10)(2005.70,1.90)(2005.80,1.85)(2005.89,1.95)(2005.99,1.90)(2006.08,2.70)(2006.13,2.20)(2006.23,2.80)(2006.27,3.15)(2006.34,3.00)(2006.42,2.80)(2006.51,2.40)(2006.66,1.95)(2006.80,1.85)(2006.90,2.15)(2006.99,2.20)(2007.13,2.50)(2007.28,2.40)(2007.42,2.20)(2007.56,1.80)(2007.71,2.15)(2007.85,2.35)(2008.00,2.40)(2008.14,2.38)(2008.25,2.65)(2008.33,2.30)(2008.47,1.95)(2008.57,1.95)(2008.67,1.70)(2008.81,2.05)(2008.90,2.40)(2009.05,2.85)(2009.14,2.90)(2009.24,2.60)(2009.33,2.60)(2009.48,2.00)(2009.57,1.75)(2009.71,2.20)(2009.86,2.55)(2009.96,2.30)(2010.15,2.60)(2010.24,2.80)(2010.39,2.45)(2010.53,2.00)(2010.67,2.10)(2010.82,2.25)(2010.96,2.25)(2011.11,2.20)(2011.20,2.35)(2011.30,2.20)(2011.44,1.95)(2011.54,1.70)(2011.63,1.85)(2011.82,2.15)(2011.97,2.80)(2012.06,2.90)(2012.21,2.65)(2012.30,2.20)(2012.44,2.00)(2012.54,1.90)(2012.73,2.50)(2012.83,2.20)(2012.97,2.60)(2013.21,2.60)(2013.35,2.45)(2013.50,2.05)(2013.59,1.75)(2013.78,2.05)(2013.93,2.30)(2014.07,2.20)(2014.22,2.40)(2014.36,2.40)(2014.50,2.05)(2014.65,1.95)(2014.79,2.10)(2014.98,2.40)(2015.12,2.60)(2015.22,2.50)(2015.32,2.70)(2015.36,2.75)(2015.46,2.10)(2015.60,1.95)(2015.75,2.00)(2015.84,2.10)(2015.99,2.20)(2016.18,2.35)(2016.27,2.60)(2016.37,2.25)(2016.56,2.10)(2016.66,1.90)(2016.80,2.40)(2016.94,2.50)(2017.09,2.55)(2017.28,2.45)(2017.42,2.05)(2017.56,1.95)(2017.71,2.10)(2017.88,2.40)};
\streams{0.885}{0.78}
\end{axis}
\end{tikzpicture}
\end{document}
